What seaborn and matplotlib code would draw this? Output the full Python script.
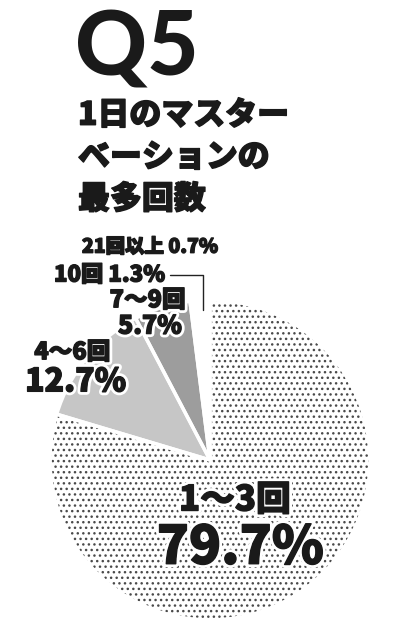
import numpy as np
import pandas as pd
import matplotlib
matplotlib.use("Agg")
import matplotlib.pyplot as plt
import matplotlib.patheffects as pe
import seaborn as sns

# data
categories = ['1～3回', '4～6回', '7～9回', '10回', '21回以上']
shares = [79.7, 12.7, 5.7, 1.3, 0.7]
share_labels = ['79.7%', '12.7%', '5.7%', '1.3%', '0.7%']
title_top = 'Q5'
title_lines = ['1日のマスター', 'ベーションの', '最多回数']

sns.set_theme(style="white")
plt.rcParams['font.family'] = ['Noto Sans CJK JP', 'DejaVu Sans']
plt.rcParams['hatch.linewidth'] = 1.0

ink = '#1a1a1a'
fills = ['white', '#c6c6c6', '#9d9d9d', 'white', 'white']
# white halo plus a thin ink stroke to make the glyphs look heavier
halo = [pe.Stroke(linewidth=5, foreground='white'),
        pe.Stroke(linewidth=1.0, foreground=ink), pe.Normal()]
heavy = [pe.Stroke(linewidth=1.0, foreground=ink), pe.Normal()]
W = 900

fig = plt.figure(figsize=(4.16, 6.4), dpi=100)
fig.patch.set_facecolor('white')

# pie area: centre at (210, 460) px, radius 160 px
ax = fig.add_axes([50 / 416, 20 / 640, 320 / 416, 320 / 640])
wedges, _ = ax.pie(shares, startangle=90, counterclock=False, colors=fills,
                   wedgeprops=dict(edgecolor='#4a4a4a', linewidth=0))
wedges[0].set_hatch('...')
ax.pie(shares, startangle=90, counterclock=False, colors=['none'] * len(shares),
       wedgeprops=dict(edgecolor='white', linewidth=2.5))
ax.set_xlim(-1, 1)
ax.set_ylim(-1, 1)
ax.axis('off')

# labels
kw = dict(weight=W, ha='center', va='center', color=ink, path_effects=halo)
ax.text(0.156, -0.25, categories[0], fontsize=25, **kw)
ax.text(0.19, -0.55, share_labels[0], fontsize=38, **kw)
ax.text(-0.86, 0.675, categories[1], fontsize=17, **kw)
ax.text(-0.84, 0.49, share_labels[1], fontsize=23, **kw)
ax.text(-0.39, 1.0, categories[2], fontsize=17, **kw)
ax.text(-0.375, 0.84, share_labels[2], fontsize=18, **kw)
ax.text(-0.375, 1.33, categories[4] + ' ' + share_labels[4], fontsize=14, **kw)
kw['ha'] = 'right'
ax.text(-0.28, 1.156, categories[3] + ' ' + share_labels[3], fontsize=16, **kw)

# leader line to the 1.3% slice
theta = np.deg2rad(wedges[3].theta1)
x_lead = np.cos(theta)
ax.plot([-0.25, x_lead, x_lead], [1.156, 1.156, 0.94], color='#222222', lw=1, clip_on=False)

# title
fig.text(75 / 416, 1 - 50 / 640, title_top, fontsize=64, weight=W, family='Lato',
         ha='left', va='center', color=ink)
for i, line in enumerate(title_lines):
    fig.text(78 / 416, 1 - (115 + 42 * i) / 640, line, fontsize=23, weight=W,
             ha='left', va='center', color=ink, path_effects=heavy)

plt.savefig('out.png', dpi=100, facecolor='white')
